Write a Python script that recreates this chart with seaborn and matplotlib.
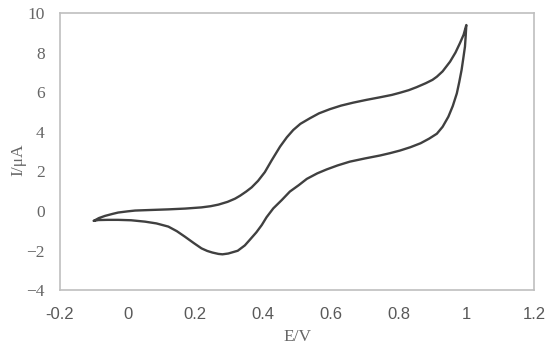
import pandas as pd
import seaborn as sns
import matplotlib.pyplot as plt

# Forward scan (upper branch), -0.1 V -> 1.0 V
e_fwd = [-0.100, -0.085, -0.067, -0.045, -0.028, 0.000, 0.022, 0.070, 0.120, 0.170,
         0.218, 0.245, 0.268, 0.295, 0.317, 0.332, 0.350, 0.366, 0.385, 0.405,
         0.425, 0.450, 0.470, 0.489, 0.510, 0.538, 0.565, 0.597, 0.630, 0.666,
         0.705, 0.745, 0.780, 0.804, 0.830, 0.853, 0.880, 0.900, 0.913, 0.930,
         0.952, 0.968, 0.981, 0.992, 1.000]
i_fwd = [-0.50, -0.36, -0.25, -0.15, -0.08, -0.02, 0.02, 0.05, 0.08, 0.12,
         0.18, 0.24, 0.32, 0.46, 0.62, 0.77, 0.98, 1.19, 1.52, 1.96,
         2.55, 3.25, 3.72, 4.09, 4.40, 4.68, 4.93, 5.14, 5.32, 5.47,
         5.61, 5.74, 5.86, 5.97, 6.10, 6.25, 6.45, 6.62, 6.78, 7.05,
         7.54, 8.00, 8.47, 8.90, 9.39]

# Reverse scan (lower branch), 1.0 V -> -0.1 V
e_rev = [0.998, 0.996, 0.991, 0.986, 0.979, 0.972, 0.960, 0.947, 0.930, 0.913,
         0.890, 0.865, 0.835, 0.804, 0.775, 0.745, 0.700, 0.656, 0.620, 0.588,
         0.560, 0.529, 0.505, 0.479, 0.455, 0.430, 0.410, 0.396, 0.380, 0.360,
         0.346, 0.325, 0.297, 0.280, 0.268, 0.250, 0.235, 0.218, 0.195, 0.169,
         0.145, 0.120, 0.085, 0.051, 0.010, -0.028, -0.060, -0.087, -0.100]
i_rev = [8.80, 8.30, 7.70, 7.12, 6.50, 5.94, 5.30, 4.76, 4.25, 3.90,
         3.65, 3.42, 3.22, 3.05, 2.92, 2.80, 2.65, 2.49, 2.30, 2.10,
         1.90, 1.62, 1.30, 0.98, 0.55, 0.13, -0.32, -0.71, -1.08, -1.47,
         -1.74, -2.01, -2.15, -2.19, -2.17, -2.10, -2.02, -1.89, -1.62, -1.30,
         -1.02, -0.79, -0.63, -0.54, -0.47, -0.45, -0.45, -0.46, -0.50]

x_ticks = [-0.2, 0, 0.2, 0.4, 0.6, 0.8, 1.0, 1.2]
x_tick_labels = ['-0.2', '0', '0.2', '0.4', '0.6', '0.8', '1', '1.2']
y_ticks = [-4, -2, 0, 2, 4, 6, 8, 10]

df = pd.DataFrame({'E': e_fwd + e_rev, 'I': i_fwd + i_rev})

sns.set_theme(style="white")
plt.rcParams['font.family'] = ['Liberation Serif', 'DejaVu Serif']

fig = plt.figure(figsize=(5.5, 3.5), dpi=100)
ax = fig.add_axes([0.109, 0.171, 0.862, 0.792])
sns.lineplot(x='E', y='I', data=df, sort=False, estimator=None,
             color='#404040', linewidth=1.7, ax=ax,
             solid_joinstyle='round', solid_capstyle='round')

ax.set_xlim(-0.2, 1.2)
ax.set_ylim(-4, 10)
ax.set_xticks(x_ticks)
ax.set_xticklabels(x_tick_labels, family='Liberation Sans', fontsize=12, color='#595959')
ax.set_yticks(y_ticks)
ax.set_yticklabels([str(v).replace('-', '\u2212') for v in y_ticks],
                   fontsize=12.5, color='#666666')
ax.tick_params(axis='both', length=0)
ax.tick_params(axis='x', pad=12)
ax.tick_params(axis='y', pad=11)

for s in ax.spines.values():
    s.set_color('#BFBFBF')
    s.set_linewidth(1.2)

ax.set_xlabel('E/V', fontsize=12.5, color='#666666', labelpad=5)
ax.set_ylabel('I/\u03bcA', fontsize=12.5, color='#666666')
ax.yaxis.set_label_coords(-0.07, 0.47)
ax.grid(False)

fig.savefig('out.png', dpi=100)
